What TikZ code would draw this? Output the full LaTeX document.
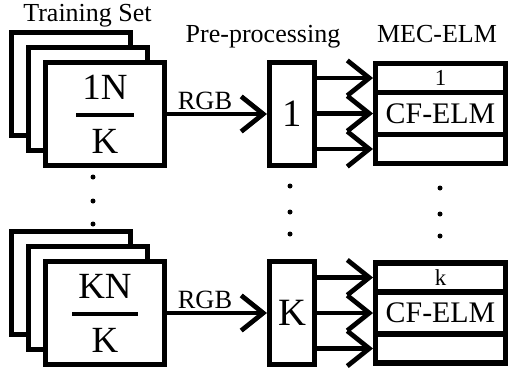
\documentclass[tikz,border=0pt]{standalone}
\usepackage{amsmath}
\usepackage{fontspec}
\setmainfont{Liberation Serif}
\usetikzlibrary{positioning,arrows.meta}

\begin{document}
\begin{tikzpicture}[x=0.02cm,y=-0.02cm,
    box/.style={draw,line width=2.9pt,fill=white,inner sep=0pt},
    setbox/.style={box,minimum width=2.38cm,minimum height=2.06cm,font=\fontsize{21}{24}\selectfont},
    prebox/.style={box,minimum width=0.9cm,minimum height=2.06cm,font=\fontsize{22}{24}\selectfont},
    elmrow/.style={box,outer sep=0pt,minimum width=2.6cm},
    arr/.style={line width=2.7pt,-{Straight Barb[length=12.5pt,width=20pt]}},
    title/.style={font=\fontsize{14.8}{17}\selectfont,anchor=base}]
    \useasboundingbox (0,0) rectangle (510,376);

    \coordinate (s1) at (105,114);
    \coordinate (s2) at (105,313);
    \coordinate (p1) at (292,114);
    \coordinate (p2) at (292,313);
    \coordinate (e1) at (440.5,113.5);
    \coordinate (e2) at (440.5,313);

    % headings
    \node[title] (TrainTitle) at (87.5,21) {Training Set};
    \node[title] (PreTitle) at (263,42) {Pre-processing};
    \node[title] (ElmTitle) at (437,42) {MEC-ELM};

    % training subsets, stacked
    \foreach \i in {2,1}{
        \node[setbox,xshift=-\i*0.34cm,yshift=\i*0.30cm] (back1\i) at (s1) {};
        \node[setbox,xshift=-\i*0.34cm,yshift=\i*0.30cm] (back2\i) at (s2) {};
    }
    \node[setbox] (set1) at (s1) {$\genfrac{}{}{2.3pt}{0}{\text{\,1N\,}}{\text{K}}$};
    \node[setbox] (set2) at (s2) {$\genfrac{}{}{2.3pt}{0}{\text{\,KN\,}}{\text{K}}$};

    % pre-processing
    \node[prebox] (pre1) at (p1) {1};
    \node[prebox] (pre2) at (p2) {K};

    % MEC-ELM blocks
    \node[elmrow,minimum height=0.84cm,font=\fontsize{17}{20}\selectfont] (cf1) at (e1) {CF-ELM};
    \node[elmrow,minimum height=0.58cm,above=0pt of cf1,font=\fontsize{13}{15}\selectfont] (id1) {1};
    \node[elmrow,minimum height=0.58cm,below=0pt of cf1] (nil1) {};
    \node[elmrow,minimum height=0.84cm,font=\fontsize{17}{20}\selectfont] (cf2) at (e2) {CF-ELM};
    \node[elmrow,minimum height=0.58cm,above=0pt of cf2,font=\fontsize{13}{15}\selectfont] (id2) {k};
    \node[elmrow,minimum height=0.58cm,below=0pt of cf2] (nil2) {};

    % connections
    \draw[arr] (set1) -- (pre1) node[pos=0.38,above,inner sep=1pt,font=\fontsize{15}{17}\selectfont] {RGB};
    \draw[arr] (set2) -- (pre2) node[pos=0.38,above,inner sep=1pt,font=\fontsize{15}{17}\selectfont] {RGB};
    \foreach \n in {1,2}
        \foreach \r in {id,cf,nil}
            \draw[arr,shorten >=1.4pt] (pre\n.east |- \r\n) -- (\r\n.west);

    % dots between the groups
    \foreach \x/\y in {93/177,93/201,93/224,290/186,290/212,290/234,440/188,440/214,440/236}
        \fill (\x,\y) circle[radius=0.05cm];
\end{tikzpicture}
\end{document}
